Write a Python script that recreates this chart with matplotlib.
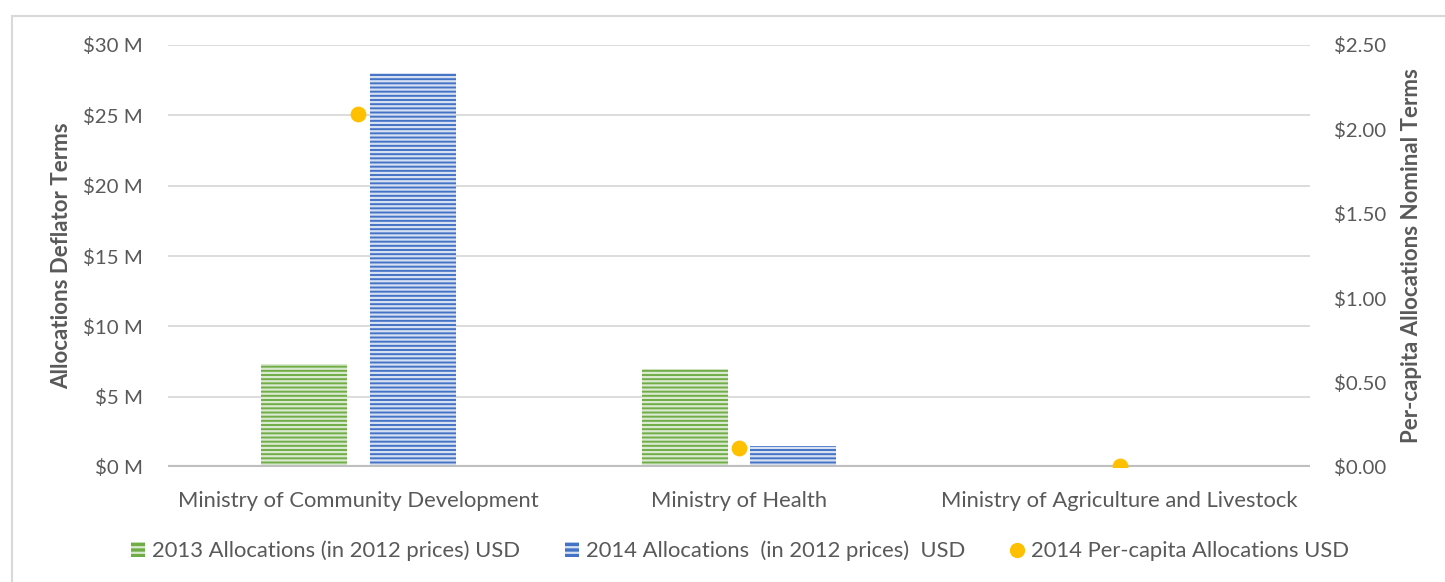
import matplotlib
matplotlib.use("Agg")
import matplotlib.pyplot as plt
import numpy as np
from matplotlib.patches import Rectangle
from matplotlib.lines import Line2D

categories = ["Ministry of Community Development", "Ministry of Health", "Ministry of Agriculture and Livestock"]
alloc_2013 = [7.35, 7.0, 0.0]      # $ M
alloc_2014 = [28.0, 1.5, 0.0]      # $ M
percap_2014 = [2.09, 0.115, 0.005] # $
left_ticks = [0, 5, 10, 15, 20, 25, 30]
right_ticks = [0.0, 0.5, 1.0, 1.5, 2.0, 2.5]

plt.rcParams['font.family'] = ['Lato', 'DejaVu Sans']
plt.rcParams['hatch.linewidth'] = 1.6
txt = '#595959'
green = '#70ad47'
blue = '#4472c4'
gold = '#ffc000'

W, H = 1445, 582
fig = plt.figure(figsize=(W/100, H/100), dpi=100)
ax = fig.add_axes([168/W, 1-467/H, (1310-168)/W, (467-45)/H])
ax2 = ax.twinx()

x = np.arange(len(categories))
bw = 0.226
off = 0.143
ax.bar(x - off, alloc_2013, bw, color=green, edgecolor='#d9ead0', linewidth=0, hatch='----', zorder=3)
ax.bar(x + off, alloc_2014, bw, color=blue, edgecolor='#d6e0f3', linewidth=0, hatch='----', zorder=3)
ax2.scatter(x, percap_2014, s=130, color=gold, zorder=5, linewidths=0)

ax.set_xlim(-0.5, 2.5)
ax.set_ylim(0, 30)
ax2.set_ylim(0, 2.5)
ax.set_yticks(left_ticks)
ax.set_yticklabels([f"${v} M" for v in left_ticks])
ax2.set_yticks(right_ticks)
ax2.set_yticklabels([f"${v:.2f}" for v in right_ticks])
ax.set_xticks(x)
ax.set_xticklabels(categories)

for a in (ax, ax2):
    for s in a.spines.values():
        s.set_visible(False)
    a.tick_params(length=0, colors=txt, labelsize=14.7)
ax.tick_params(axis='y', pad=18)
ax2.tick_params(axis='y', pad=17.5)
ax.tick_params(axis='x', pad=17, labelsize=15.8)
ax.grid(axis='y', color='#d9d9d9', linewidth=1.3, zorder=0)
ax.set_axisbelow(True)
ax.axhline(0, color='#bfbfbf', linewidth=3, zorder=4)

fig.text(62/W, 1-256/H, "Allocations Deflator Terms", rotation=90, ha='center', va='center',
         color=txt, fontsize=16, fontweight='bold')
fig.text(1412/W, 1-256/H, "Per-capita Allocations Nominal Terms", rotation=90, ha='center', va='center',
         color=txt, fontsize=16, fontweight='bold')

handles = [
    Rectangle((0, 0), 1, 1, facecolor=green, edgecolor='#d9ead0', linewidth=0, hatch='---'),
    Rectangle((0, 0), 1, 1, facecolor=blue, edgecolor='#d6e0f3', linewidth=0, hatch='---'),
    Line2D([], [], marker='o', linestyle='none', color=gold, markersize=10),
]
labels = ["2013 Allocations (in 2012 prices) USD", "2014 Allocations  (in 2012 prices)  USD",
          "2014 Per-capita Allocations USD"]
leg = fig.legend(handles, labels, loc='center', bbox_to_anchor=(740/W, 1-551/H), ncol=3, frameon=False,
                 fontsize=15.8, handlelength=0.65, handleheight=0.65, handletextpad=0.3, columnspacing=2.05)
for t in leg.get_texts():
    t.set_color(txt)

fig.patches.append(Rectangle((12/W, -0.1), 1.2, 1 - 16/H + 0.1, transform=fig.transFigure,
                             fill=False, edgecolor='#d9d9d9', linewidth=1.5))

fig.savefig("out.png", dpi=100)
